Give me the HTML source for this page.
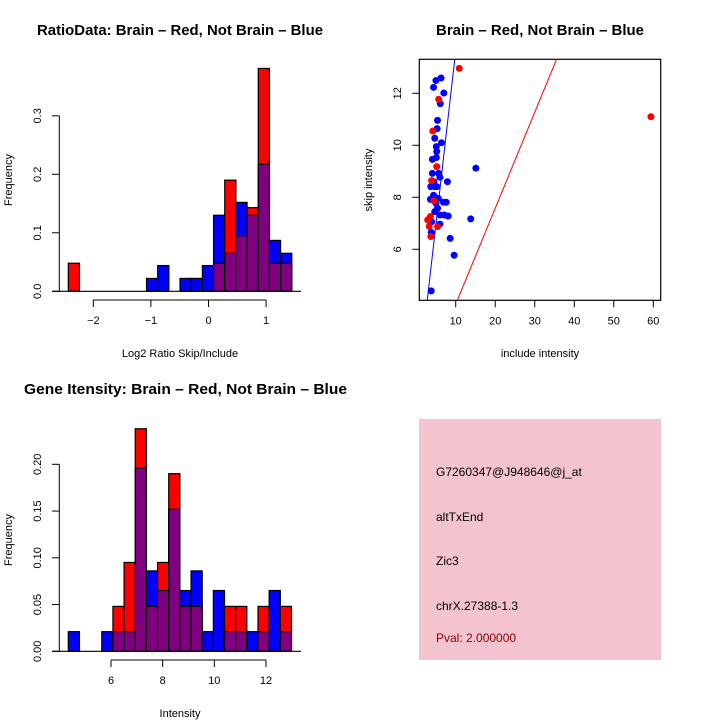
<!DOCTYPE html>
<html><head><meta charset="utf-8"><style>
body{margin:0;background:#fff;}
svg{display:block;font-family:"Liberation Sans",sans-serif;}
</style></head><body>
<svg id="c" width="720" height="720" viewBox="0 0 720 720">
<g id="p1"></g>
<g id="p2"></g>
<g id="p3"></g>
<g id="p4">
<rect x="419" y="419" width="242" height="241" fill="#f3c4cf"/>
<text x="436" y="476" font-size="12">G7260347@J948646@j_at</text>
<text x="436" y="521" font-size="12">altTxEnd</text>
<text x="436" y="565" font-size="12">Zic3</text>
<text x="436" y="610" font-size="12">chrX.27388-1.3</text>
<text x="436" y="642" font-size="12" fill="#8b0000">Pval: 2.000000</text>
</g>
</svg>
<script>
// ---- Data ----
const ratioStart = -2.434, ratioBinW = 0.194;
const ratioRed  = [0.048,0,0,0,0,0,0,0,0,0,0,0,0,0.048,0.19,0.095,0.143,0.381,0.048,0.048];
const ratioBlue = [0,0,0,0,0,0,0,0.022,0.044,0,0.022,0.022,0.044,0.13,0.065,0.152,0.13,0.217,0.087,0.065];
const ratioXTicks = [-2,-1,0,1];
const ratioYTicks = [0,0.1,0.2,0.3];

const intStart = 4.347, intBinW = 0.432;
const intRed  = [0,0,0,0,0.048,0.095,0.238,0.048,0.095,0.19,0.048,0.048,0,0,0.048,0.048,0,0.048,0,0.048];
const intBlue = [0.021,0,0,0.021,0.021,0.021,0.196,0.086,0.065,0.152,0.065,0.086,0.021,0.065,0.021,0.021,0.021,0.021,0.065,0.021];
const intXTicks = [6,8,10,12];
const intYTicks = [0,0.05,0.10,0.15,0.20];
const intYLabels = ["0.00","0.05","0.10","0.15","0.20"];

const redInclude = [10.9,59.4,5.7,4.2,5.2,3.9,4.5,3.6,2.9,3.3,3.7,5.4];
const redSkip    = [12.96,11.1,11.77,10.55,9.18,8.64,7.86,7.26,7.13,6.88,6.49,6.87];
const blueInclude = [6.3,5.0,4.4,7.0,6.1,5.4,5.3,4.7,6.4,5.1,5.2,5.1,4.1,15.1,4.1,5.7,7.9,6.0,4.5,3.7,4.7,4.4,3.6,5.6,6.9,7.6,5.4,4.7,6.0,7.1,8.1,13.8,3.9,6.0,3.8,8.6,9.6,3.8,5.0,5.2];
const blueSkip    = [12.59,12.49,12.23,12.01,11.6,10.96,10.64,10.27,10.1,9.95,9.76,9.53,9.46,9.12,8.92,8.92,8.6,8.77,8.6,8.41,8.41,8.08,7.92,7.96,7.81,7.81,7.58,7.45,7.32,7.32,7.28,7.17,7.06,6.97,6.65,6.42,5.77,4.4,7.77,8.41];
const blueLine = [0.31,1.332]; // intercept, slope
const redLine  = [0.20,0.369];
const scXTicks = [10,20,30,40,50,60];
const scYTicks = [6,8,10,12];

const NS="http://www.w3.org/2000/svg";
function mk(parent,tag,attrs){const e=document.createElementNS(NS,tag);for(const k in attrs)e.setAttribute(k,attrs[k]);parent.appendChild(e);return e;}
function txt(parent,x,y,s,attrs){const e=mk(parent,'text',Object.assign({x:x,y:y,'font-size':12,'text-anchor':'middle'},attrs||{}));e.textContent=s;return e;}

function histogram(g,o){
  const X=v=>o.x0+(v-o.xv0)*o.xs, Y=v=>o.y0-v*o.ys;
  for(let i=0;i<o.red.length;i++){
    const l=X(o.start+i*o.bw), r=X(o.start+(i+1)*o.bw), w=r-l;
    const rv=o.red[i], bv=o.blue[i];
    const hi=Math.max(rv,bv), lo=Math.min(rv,bv);
    if(hi>0){
      const b=mk(g,'rect',{x:l,y:Y(hi),width:w,height:Y(0)-Y(hi),fill:rv>bv?'#ff0000':'#0000ff',stroke:'#000','stroke-width':1.2});
      
      
    }
    if(lo>0){
      const p=mk(g,'rect',{x:l,y:Y(lo),width:w,height:Y(0)-Y(lo),fill:'#800080',stroke:'#000','stroke-width':1.2});
      
      
    }
  }
  mk(g,'line',{x1:52,x2:301,y1:o.y0,y2:o.y0,stroke:'#000','stroke-width':1.2});
  const ya=mk(g,'g',{});
  
  
  mk(ya,'line',{x1:59.3,x2:59.3,y1:Y(o.yt[0]),y2:Y(o.yt[o.yt.length-1]),stroke:'#000'});
  o.yt.forEach((v,i)=>{mk(ya,'line',{x1:52,x2:59.3,y1:Y(v),y2:Y(v),stroke:'#000'});
    txt(ya,41,Y(v),o.yl[i],{transform:`rotate(-90 41 ${Y(v)})`,'font-size':11});});
  const xa=mk(g,'g',{});
  
  
  const ax=o.y0+8.7;
  mk(xa,'line',{x1:X(o.xt[0]),x2:X(o.xt[o.xt.length-1]),y1:ax,y2:ax,stroke:'#000'});
  o.xt.forEach(v=>{mk(xa,'line',{x1:X(v),x2:X(v),y1:ax,y2:ax+7,stroke:'#000'});
    txt(xa,X(v),ax+24,v<0?'\u2212'+(-v):String(v),{'font-size':11});});
  const yl=txt(g,12,o.ymid,'Frequency',{transform:`rotate(-90 12 ${o.ymid})`,'font-size':11});
   
  const xl=txt(g,180,o.xlabY,o.xlab,{'font-size':11});
   
  const t=txt(g,o.tx,o.ty,o.title,{'font-size':15,'font-weight':'bold',textLength:o.tl,lengthAdjust:'spacingAndGlyphs'});
   
}

histogram(document.getElementById('p1'),{x0:93.3,xv0:-2,xs:57.6,y0:291.3,ys:585,start:ratioStart,bw:ratioBinW,
  red:ratioRed,blue:ratioBlue,xt:ratioXTicks,yt:ratioYTicks,yl:["0.0","0.1","0.2","0.3"],ymid:180,
  xlab:'Log2 Ratio Skip/Include',xlabY:357,title:'RatioData: Brain \u2013 Red, Not Brain \u2013 Blue',tx:180,ty:35,tl:286});
histogram(document.getElementById('p3'),{x0:111,xv0:6,xs:25.83,y0:651.3,ys:935,start:intStart,bw:intBinW,
  red:intRed,blue:intBlue,xt:intXTicks,yt:intYTicks,yl:intYLabels,ymid:540,
  xlab:'Intensity',xlabY:717,title:'Gene Itensity: Brain \u2013 Red, Not Brain \u2013 Blue',tx:185.5,ty:394,tl:323});

// scatter
(function(){
  const g=document.getElementById('p2');
  const X=v=>455.7+(v-10)*3.952, Y=v=>249.3-(v-6)*26;
  const bx0=419.3,bx1=660.7,by0=59.3,by1=300.3;
  const f=mk(g,'rect',{x:bx0,y:by0,width:bx1-bx0,height:by1-by0,fill:'none',stroke:'#000','stroke-width':1.2});
   
  const defs=mk(g,'clipPath',{id:'clp'}); mk(defs,'rect',{x:bx0,y:by0,width:bx1-bx0,height:by1-by0});
  const lg=mk(g,'g',{'clip-path':'url(#clp)'});
  [[blueLine,'#0000ff','blue-fit-line'],[redLine,'#ff0000','red-fit-line']].forEach(([c,col,n])=>{
    const yA=2, yB=15;
    const l=mk(lg,'line',{x1:X((yA-c[0])/c[1]),y1:Y(yA),x2:X((yB-c[0])/c[1]),y2:Y(yB),stroke:col,'stroke-width':1});
     
  });
  blueInclude.forEach((v,i)=>{const c=mk(g,'circle',{cx:X(v),cy:Y(blueSkip[i]),r:3.5,fill:'#0000ff'});
     });
  redInclude.forEach((v,i)=>{const c=mk(g,'circle',{cx:X(v),cy:Y(redSkip[i]),r:3.5,fill:'#ff0000'});
     });
  scXTicks.forEach(v=>{mk(g,'line',{x1:X(v),x2:X(v),y1:by1,y2:by1+7,stroke:'#000'});txt(g,X(v),by1+24,String(v),{'font-size':11});});
  scYTicks.forEach(v=>{mk(g,'line',{x1:bx0-7,x2:bx0,y1:Y(v),y2:Y(v),stroke:'#000'});txt(g,401,Y(v),String(v),{transform:`rotate(-90 401 ${Y(v)})`,'font-size':11});});
  const yl=txt(g,372,180,'skip intensity',{transform:'rotate(-90 372 180)','font-size':11});
   
  const xl=txt(g,540,357,'include intensity',{'font-size':11});
   
  const t=txt(g,540,35,'Brain \u2013 Red, Not Brain \u2013 Blue',{'font-size':15,'font-weight':'bold',textLength:208,lengthAdjust:'spacingAndGlyphs'});
   
})();
</script>
</body></html>
